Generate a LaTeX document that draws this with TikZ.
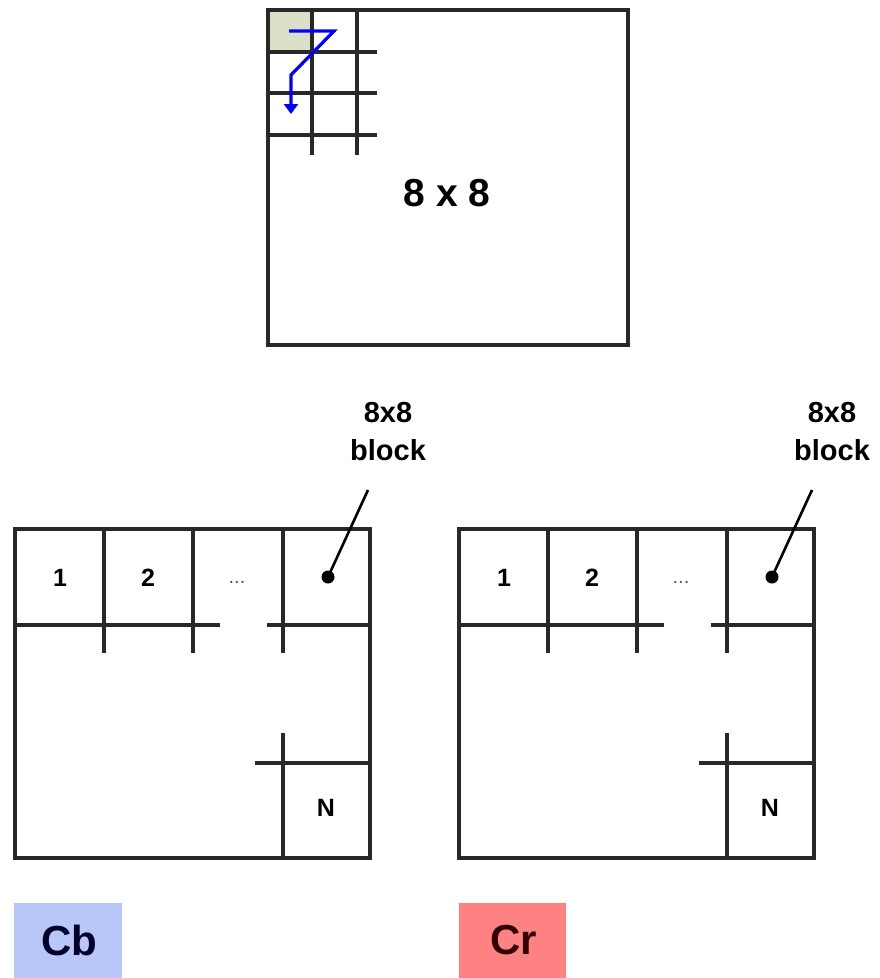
\documentclass[tikz,border=0pt]{standalone}
\usepackage{fontspec}
\setmainfont{Liberation Sans}
\usetikzlibrary{arrows.meta}
\definecolor{gridc}{RGB}{40,40,40}
\definecolor{cellc}{RGB}{220,224,200}
\definecolor{cbc}{RGB}{184,198,248}
\definecolor{crc}{RGB}{255,130,130}
\tikzset{
  gline/.style={draw=gridc,line width=3.3pt},
  lbl/.style={font=\bfseries\fontsize{25}{30}\selectfont,inner sep=0pt},
  tag/.style={font=\bfseries\fontsize{29}{38}\selectfont,align=center,inner sep=0pt},
  chan/.style={font=\bfseries\fontsize{42}{44}\selectfont,inner sep=0pt},
}
\begin{document}
\begin{tikzpicture}[x=1pt,y=-1pt]
\useasboundingbox (0,0) rectangle (879,978);
% top 8x8 block
\fill[cellc] (268,10) rectangle (312,52);
\foreach \x in {312,357} \draw[gline] (\x,10) -- (\x,155);
\foreach \y in {52,93,135} \draw[gline] (268,\y) -- (377,\y);
\draw[gline] (268,10) rectangle (628,345);
\node[font=\bfseries\fontsize{39}{40}\selectfont,inner sep=0pt] (t88) at (447,193) {8 x 8};
\coordinate (zs) at (289,31);
\coordinate (z1) at (334,31);
\coordinate (z2) at (291,75);
\coordinate (ze) at (291,114);
\draw[blue,line width=3.2pt,-{Triangle[length=10pt,width=14pt]}] (zs) -- (z1) -- (z2) -- (ze);
% bottom panels
\foreach \o/\nm in {0/L,444/R}{
  \begin{scope}[xshift=\o pt]
  \foreach \x in {104,193,283} \draw[gline] (\x,529) -- (\x,653);
  \draw[gline] (15,625) -- (220,625);
  \draw[gline] (267,625) -- (370,625);
  \draw[gline] (283,733) -- (283,858);
  \draw[gline] (255,763) -- (370,763);
  \draw[gline] (15,529) rectangle (370,858);
  \node[lbl] (one\nm) at (60,578) {1};
  \node[lbl] (two\nm) at (148,578) {2};
  \node[font=\fontsize{20}{20}\selectfont,text=gray!70!black,inner sep=0pt] (dots\nm) at (237,582) {...};
  \node[lbl] (n\nm) at (326,808) {N};
  \node[circle,fill=black,inner sep=0pt,minimum size=13pt] (dot\nm) at (328,577) {};
  \node[tag] (tag\nm) at (388,432) {8x8\\block};
  \coordinate (tip\nm) at (368,490);
  \draw[black,line width=2.6pt] (dot\nm.center) -- (tip\nm);
  \end{scope}
}
% channel labels
\node[fill=cbc,minimum width=108pt,minimum height=75pt,inner sep=0pt,anchor=north west] (cb) at (14,903) {};
\node[chan,text={rgb,255:red,0;green,0;blue,40}] (cbt) at (69,940) {Cb};
\node[fill=crc,minimum width=107pt,minimum height=75pt,inner sep=0pt,anchor=north west] (cr) at (459,903) {};
\node[chan,text={rgb,255:red,50;green,0;blue,0}] (crt) at (514,940) {Cr};
\end{tikzpicture}
\end{document}
